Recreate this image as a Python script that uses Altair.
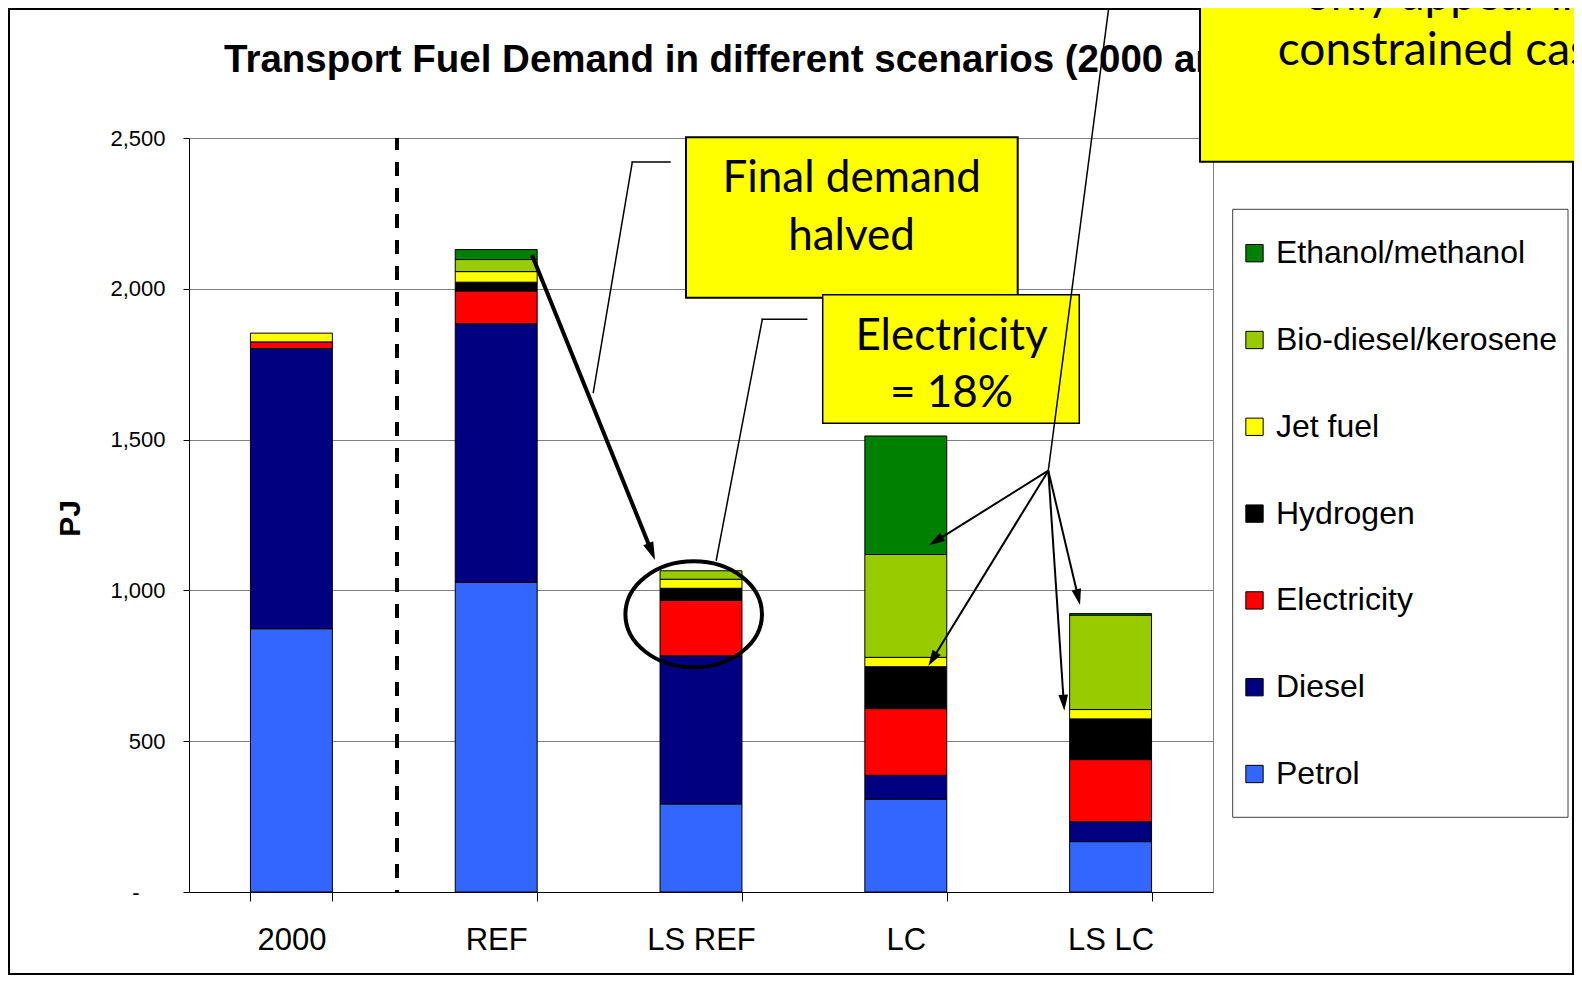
import math
import altair as alt
import pandas as pd

# ---------------- data ----------------
categories = ["2000", "REF", "LS REF", "LC", "LS LC"]
fuels = ["Petrol", "Diesel", "Electricity", "Hydrogen", "Jet fuel",
         "Bio-diesel/kerosene", "Ethanol/methanol"]
colors = ["#3366FF", "#000080", "#FF0000", "#000000", "#FFFF00",
          "#99CC00", "#008000"]

petrol = [873, 1027, 292, 308, 167]
diesel = [929, 857, 491, 79, 66]
electricity = [22, 109, 184, 221, 206]
hydrogen = [0, 29, 40, 139, 135]
jet_fuel = [29, 35, 30, 31, 31]
bio_diesel = [0, 40, 28, 341, 313]
ethanol = [0, 33, 0, 393, 5]

y_ticks = [0, 500, 1000, 1500, 2000, 2500]

title_text = "Transport Fuel Demand in different scenarios (2000 and 2050)"
note1 = ["Final demand", "halved"]
note2 = ["Electricity", "= 18%"]
note3 = ["only appear in", "constrained case"]

series = [petrol, diesel, electricity, hydrogen, jet_fuel, bio_diesel, ethanol]
rows = []
for k, (fuel, vals) in enumerate(zip(fuels, series)):
    for cat, v in zip(categories, vals):
        if v > 0:
            rows.append({"scenario": cat, "fuel": fuel, "pj": v, "k": k})
df = pd.DataFrame(rows)

ARIAL = "Liberation Sans"
CALIBRI = "Lato"
W, H = 1024, 754
one = pd.DataFrame({"d": [0]})

color_scale = alt.Scale(domain=fuels, range=colors)

bars = alt.Chart(df).mark_bar(stroke="#000000", strokeWidth=1).encode(
    x=alt.X("scenario:N", sort=categories, title=None,
            scale=alt.Scale(paddingInner=0.6, paddingOuter=0.3),
            axis=alt.Axis(labelAngle=0, tickBand="extent", tickSize=9,
                          labelPadding=24, labelFontSize=31, labelFont=ARIAL,
                          labelColor="#000000", domainColor="#000000",
                          tickColor="#000000", grid=False)),
    y=alt.Y("pj:Q", stack="zero", title="PJ",
            scale=alt.Scale(domain=[0, 2500], nice=False),
            axis=alt.Axis(values=y_ticks, tickSize=6,
                          labelPadding={"condition": {"test": "datum.value == 0", "value": 44},
                                        "value": 18},
                          labelFontSize=22, labelFont=ARIAL, labelColor="#000000",
                          labelExpr="datum.value == 0 ? '-' : format(datum.value, ',')",
                          domainColor="#000000", tickColor="#000000",
                          grid=True, gridColor="#808080", gridWidth=1,
                          titleFont=ARIAL, titleFontSize=30, titleFontWeight="bold",
                          titleColor="#000000", titleAngle=270, titleX=-118.7,
                          titleY=380, titleAlign="center", titleBaseline="middle")),
    color=alt.Color("fuel:N", scale=color_scale, legend=None),
    order=alt.Order("k:Q", sort="ascending"),
)

layers = []


def seg(x0, y0, x1, y1, w, cap="butt", dash=None, offset=0):
    kw = dict(color="#000000", strokeWidth=w, strokeCap=cap)
    if dash:
        kw["strokeDash"] = dash
        kw["strokeDashOffset"] = offset
    return alt.Chart(one).mark_rule(**kw).encode(
        x=alt.value(x0), y=alt.value(y0), x2=alt.value(x1), y2=alt.value(y1))


def box(x0, y0, x1, y1, w, fill="#FFFF00", stroke="#000000", fill_opacity=1):
    return alt.Chart(one).mark_rect(fill=fill, fillOpacity=fill_opacity,
                                    stroke=stroke, strokeWidth=w).encode(
        x=alt.value(x0), y=alt.value(y0), x2=alt.value(x1), y2=alt.value(y1))


def label(txt, x, y, font, size, weight="normal", align="center", baseline="alphabetic"):
    return alt.Chart(one).mark_text(text=txt, font=font, fontSize=size,
                                    fontWeight=weight, align=align,
                                    baseline=baseline, color="#000000").encode(
        x=alt.value(x), y=alt.value(y))


HEAD = "M0,0 L0.45,1.5 L-0.45,1.5 Z"


def arrow(x0, y0, x1, y1, w, head=16):
    L = math.hypot(x1 - x0, y1 - y0)
    ux, uy = (x1 - x0) / L, (y1 - y0) / L
    ex, ey = x1 - ux * head * 0.7, y1 - uy * head * 0.7
    ang = math.degrees(math.atan2(ux, -uy)) % 360
    r = head / 1.5
    h = alt.Chart(one).mark_point(shape=HEAD, filled=True, color="#000000",
                                  opacity=1, size=(2 * r) ** 2, strokeWidth=0,
                                  angle=ang).encode(x=alt.value(x1), y=alt.value(y1))
    return [seg(x0, y0, ex, ey, w), h]


# outer frame
layers.append(box(-180, -129, 1384, 836, 2, fill="#ffffff", fill_opacity=0))
layers.append(bars)
# dashed separator
layers.append(seg(208, 0, 208, H, 4, dash=[14, 12], offset=2))

# legend
layers.append(box(1043.7, 71.3, 1379, 679.3, 1, fill="#ffffff", stroke="#404040"))
for i, fuel in enumerate(reversed(fuels)):
    col = colors[fuels.index(fuel)]
    yy = 115.2 + i * 86.8
    layers.append(alt.Chart(one).mark_square(size=300, fill=col, stroke="#000000",
                                             strokeWidth=1, opacity=1).encode(
        x=alt.value(1065.5), y=alt.value(yy)))
    layers.append(label(fuel, 1087, yy, ARIAL, 32, align="left", baseline="middle"))

# title
layers.append(label(title_text, 35, -78.5, ARIAL, 38.5, weight="bold", align="left",
                    baseline="middle"))

# Final demand box and leader
layers.append(seg(481, 24, 443.3, 24, 1.5, cap="square"))
layers.append(seg(443.3, 24, 404.3, 254.3, 1.5, cap="square"))
layers.append(box(497, -0.7, 828.7, 159.7, 2))
layers.append(label(note1[0], 662.7, 54.3, CALIBRI, 44))
layers.append(label(note1[1], 662.5, 112, CALIBRI, 44))

# Electricity box and leader
layers.append(seg(617.7, 181.3, 573.3, 181.3, 1.5, cap="square"))
layers.append(seg(573.3, 181.3, 527.3, 422, 1.5, cap="square"))
layers.append(box(633.7, 156.7, 890.3, 285.3, 1.5))
layers.append(label(note2[0], 762.5, 212, CALIBRI, 44))
layers.append(label(note2[1], 762.5, 268.7, CALIBRI, 44))

# thick arrow REF -> LS REF
layers += arrow(343, 117, 466, 422, 4, head=18)

# ellipse around LS REF top
ry = 53.0 / 68.3
k = 0.5523
ELL = (f"M-1,0 C-1,{-k*ry:.4f} {-k:.4f},{-ry:.4f} 0,{-ry:.4f} "
       f"C{k:.4f},{-ry:.4f} 1,{-k*ry:.4f} 1,0 "
       f"C1,{k*ry:.4f} {k:.4f},{ry:.4f} 0,{ry:.4f} "
       f"C{-k:.4f},{ry:.4f} -1,{k*ry:.4f} -1,0 Z")
layers.append(alt.Chart(one).mark_point(shape=ELL, filled=False, stroke="#000000",
                                        strokeWidth=4, opacity=1,
                                        size=(2 * 68.3) ** 2).encode(
    x=alt.value(504.7), y=alt.value(476.3)))

# top-right box
layers.append(box(1011, -150, 1420, 23.7, 2))
layers.append(label(note3[0], 1257, -128, CALIBRI, 46))
layers.append(label(note3[1], 1257, -73, CALIBRI, 46))

# long leader and arrows
ox, oy = 859.3, 332.7
layers.append(seg(ox, oy, 921, -140, 1.5))
for tx, ty in [(740, 407.3), (739.3, 528), (891, 467), (875.3, 572.7)]:
    layers += arrow(ox, oy, tx, ty, 2, head=16)

chart = alt.layer(*layers).properties(
    width=W, height=H,
    padding={"left": 181, "top": 130, "right": 361, "bottom": 83},
    autosize=alt.AutoSizeParams(type="none"),
    background="#ffffff",
).configure_view(stroke="#808080", strokeWidth=1)

chart.save("out.html", embed_options={"renderer": "svg", "actions": False})
